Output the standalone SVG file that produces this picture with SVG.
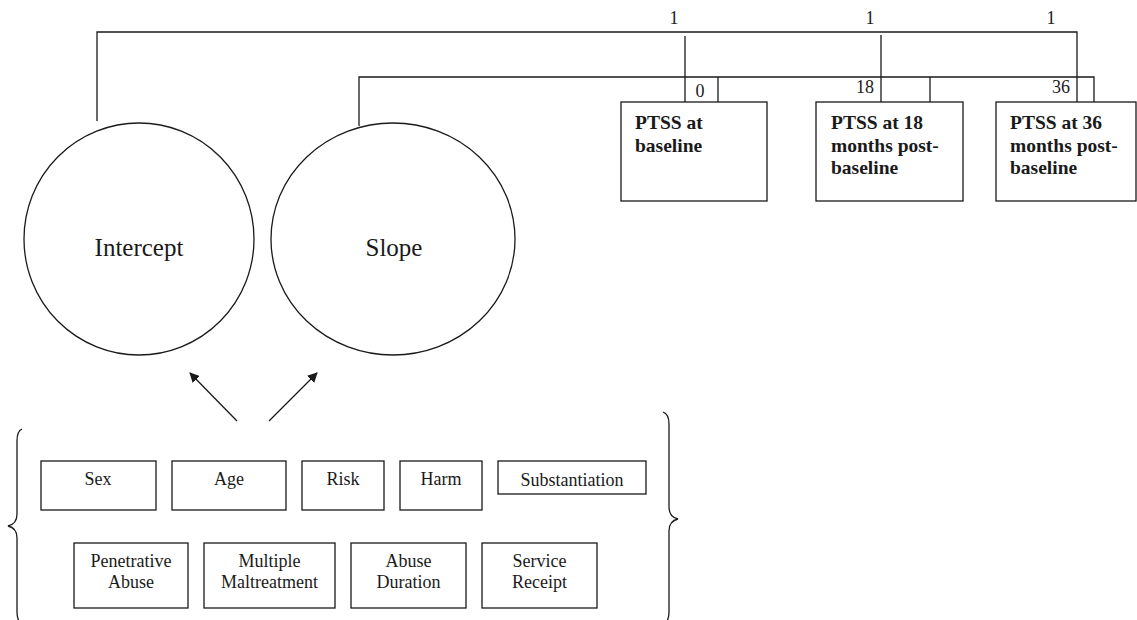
<svg xmlns="http://www.w3.org/2000/svg" width="1137" height="620" viewBox="0 0 1137 620">
<defs>
<style>
.ln{stroke:#1a1a1a;stroke-width:1.3;fill:none}
.bx{stroke:#1a1a1a;stroke-width:1.3;fill:#fff}
.t{font-family:"Liberation Serif","Times New Roman",serif;fill:#1a1a1a}
.s18{font-size:18px}
.s25{font-size:25px}
.b{font-family:"Liberation Serif","Times New Roman",serif;font-weight:bold;font-size:19.5px;fill:#1a1a1a}
</style>
<marker id="ah" viewBox="0 0 10 10" refX="9" refY="5" markerWidth="10" markerHeight="10" markerUnits="userSpaceOnUse" orient="auto">
<path d="M0,0 L10,5 L0,10 z" fill="#1a1a1a"/>
</marker>
</defs>
<rect width="1137" height="620" fill="#fff"/>
<g id="connectors">
<path class="ln" d="M97,121 V32 H1077 V102"/>
<path class="ln" d="M685,36 V102"/>
<path class="ln" d="M881,35 V102"/>
<path class="ln" d="M359,126 V77 H1094 V102"/>
<path class="ln" d="M718,77 V102"/>
<path class="ln" d="M930,77 V102"/>
<line class="ln" x1="237" y1="421" x2="190" y2="373" marker-end="url(#ah)"/>
<line class="ln" x1="269" y1="421" x2="317" y2="373" marker-end="url(#ah)"/>
<text class="t s18" x="674" y="24" text-anchor="middle">1</text>
<text class="t s18" x="870" y="24" text-anchor="middle">1</text>
<text class="t s18" x="1051" y="24" text-anchor="middle">1</text>
<text class="t s18" x="700" y="97" text-anchor="middle">0</text>
<text class="t s18" x="874" y="93" text-anchor="end">18</text>
<text class="t s18" x="1070" y="93" text-anchor="end">36</text>
</g>
<g id="ptss0">
<rect class="bx" x="621" y="102" width="146" height="99"/>
<text class="b" x="635" y="129">PTSS at</text>
<text class="b" x="635" y="151.5">baseline</text>
</g>
<g id="ptss18">
<rect class="bx" x="816" y="102" width="147" height="99"/>
<text class="b" x="831" y="129">PTSS at 18</text>
<text class="b" x="831" y="151.5">months post-</text>
<text class="b" x="831" y="174">baseline</text>
</g>
<g id="ptss36">
<rect class="bx" x="996" y="102" width="140" height="99"/>
<text class="b" x="1010" y="129">PTSS at 36</text>
<text class="b" x="1010" y="151.5">months post-</text>
<text class="b" x="1010" y="174">baseline</text>
</g>
<g id="intercept">
<ellipse class="bx" cx="139" cy="239" rx="115" ry="116"/>
<text class="t s25" x="139" y="256" text-anchor="middle">Intercept</text>
</g>
<g id="slope">
<ellipse class="bx" cx="393" cy="239" rx="122" ry="116"/>
<text class="t s25" x="394" y="256" text-anchor="middle">Slope</text>
</g>
<g id="braces">
<path class="ln" d="M22,429 Q17,431 17,441 L17,514 Q17,524 8,526 Q17,528 17,538 L17,612 Q17,620 21,624"/>
<path class="ln" d="M663,412 Q669,414 669,424 L669,507 Q669,517 678,519 Q669,521 669,531 L669,612 Q669,620 665,624"/>
</g>
<g id="sex">
<rect class="bx" x="41" y="461" width="115" height="49"/>
<text class="t s18" x="98" y="485" text-anchor="middle">Sex</text>
</g>
<g id="age">
<rect class="bx" x="172" y="461" width="114" height="49"/>
<text class="t s18" x="229" y="485" text-anchor="middle">Age</text>
</g>
<g id="risk">
<rect class="bx" x="302" y="461" width="82" height="49"/>
<text class="t s18" x="343" y="485" text-anchor="middle">Risk</text>
</g>
<g id="harm">
<rect class="bx" x="400" y="461" width="82" height="49"/>
<text class="t s18" x="441" y="485" text-anchor="middle">Harm</text>
</g>
<g id="substantiation">
<rect class="bx" x="498" y="461" width="148" height="33"/>
<text class="t s18" x="572" y="486" text-anchor="middle">Substantiation</text>
</g>
<g id="penetrative">
<rect class="bx" x="74" y="543" width="114" height="65"/>
<text class="t s18" x="131" y="567" text-anchor="middle">Penetrative</text>
<text class="t s18" x="131" y="588" text-anchor="middle">Abuse</text>
</g>
<g id="multiple">
<rect class="bx" x="204" y="543" width="131" height="65"/>
<text class="t s18" x="269.5" y="567" text-anchor="middle">Multiple</text>
<text class="t s18" x="269.5" y="588" text-anchor="middle">Maltreatment</text>
</g>
<g id="duration">
<rect class="bx" x="351" y="543" width="115" height="65"/>
<text class="t s18" x="408.5" y="567" text-anchor="middle">Abuse</text>
<text class="t s18" x="408.5" y="588" text-anchor="middle">Duration</text>
</g>
<g id="service">
<rect class="bx" x="482" y="543" width="115" height="65"/>
<text class="t s18" x="539.5" y="567" text-anchor="middle">Service</text>
<text class="t s18" x="539.5" y="588" text-anchor="middle">Receipt</text>
</g>
</svg>
